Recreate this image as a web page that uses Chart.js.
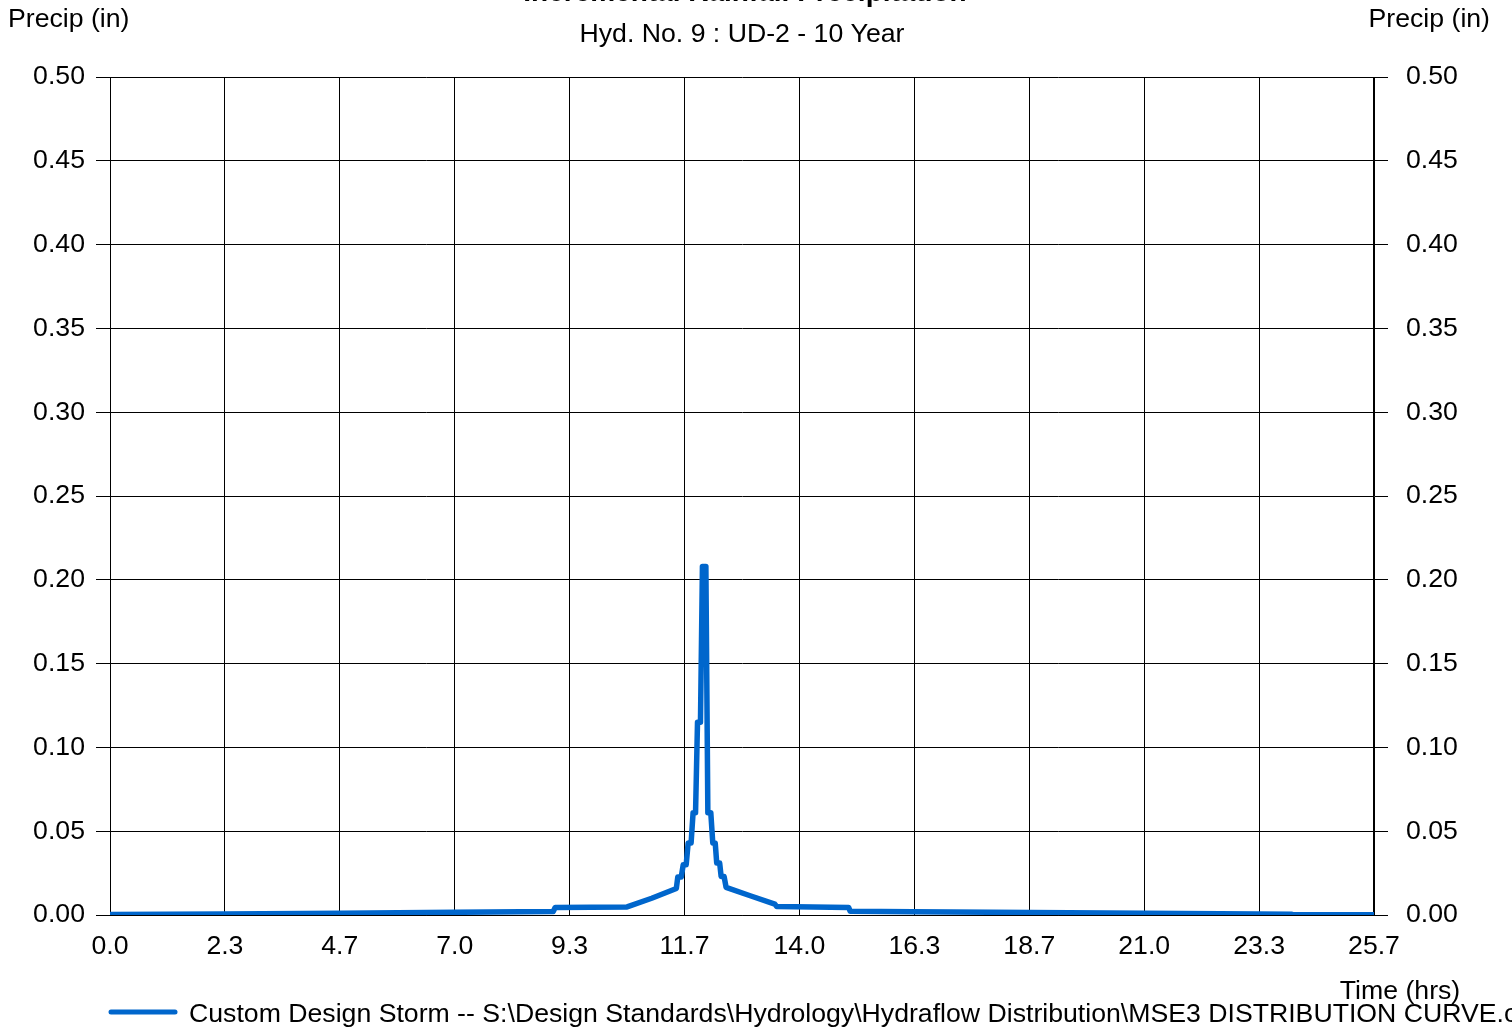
<!DOCTYPE html>
<html><head><meta charset="utf-8">
<script src="https://cdn.jsdelivr.net/npm/chart.js@4"></script>
<style>html,body{margin:0;padding:0;background:#fff;overflow:hidden}#wrap{position:relative;width:1512px;height:1030px}</style>
</head><body><div id="wrap"><canvas id="c" width="1512" height="1030"></canvas></div>
<script>
const chartTitle = "Incremental Rainfall Precipitation";
const chartSubtitle = "Hyd. No. 9 : UD-2 - 10 Year";
const yAxisTitle = "Precip (in)";
const xAxisTitle = "Time (hrs)";
const seriesName = "Custom Design Storm -- S:\\Design Standards\\Hydrology\\Hydraflow Distribution\\MSE3 DISTRIBUTION CURVE.cds";
const xTickLabels = ["0.0","2.3","4.7","7.0","9.3","11.7","14.0","16.3","18.7","21.0","23.3","25.7"];
const xMax = 25.667;
const yTickLabels = ["0.00","0.05","0.10","0.15","0.20","0.25","0.30","0.35","0.40","0.45","0.50"];
const timeHrs = [0.0, 2.3, 4.7, 7.0, 9.0, 9.04, 10.5, 11.0, 11.5, 11.53, 11.6, 11.64, 11.7, 11.74, 11.8, 11.84, 11.89, 11.93, 11.99, 12.03, 12.1, 12.14, 12.2, 12.24, 12.29, 12.32, 12.38, 12.41, 12.47, 12.51, 13.0, 13.5, 13.54, 15.0, 15.03, 16.3, 18.7, 21.0, 23.3, 24.0, 24.03, 25.67];
const precipIn = [0.0003, 0.0006, 0.0011, 0.0016, 0.0021, 0.0045, 0.0048, 0.0100, 0.0158, 0.0227, 0.0227, 0.0300, 0.0300, 0.0430, 0.0430, 0.0610, 0.0610, 0.1150, 0.1150, 0.2080, 0.2080, 0.0610, 0.0610, 0.0430, 0.0430, 0.0310, 0.0310, 0.0230, 0.0230, 0.0165, 0.0115, 0.0065, 0.0050, 0.0045, 0.0022, 0.0019, 0.0015, 0.0011, 0.0006, 0.0004, 0.0001, 0.0001];

const FONT = "'Liberation Sans', Arial, sans-serif";
const FS = 26.67;
const lineColor = '#0066CC';

const decor = {
  id: 'decor',
  afterDraw(chart) {
    const ctx = chart.ctx;
    const area = chart.chartArea;
    const cx = (area.left + area.right) / 2;
    ctx.save();
    ctx.fillStyle = '#000';
    ctx.font = 'bold 28px ' + FONT;
    ctx.textAlign = 'center';
    ctx.textBaseline = 'alphabetic';
    ctx.fillText(chartTitle, cx + 3, 1);
    ctx.font = FS + 'px ' + FONT;
    ctx.textBaseline = 'middle';
    ctx.fillText(chartSubtitle, cx, 35);
    ctx.textAlign = 'left';
    ctx.fillText(yAxisTitle, 8, 20);
    ctx.textAlign = 'right';
    ctx.fillText(yAxisTitle, 1490, 20);
    ctx.textAlign = 'center';
    ctx.fillText(xAxisTitle, 1400, 992);
    // legend
    ctx.strokeStyle = lineColor;
    ctx.lineWidth = 5;
    ctx.lineCap = 'round';
    ctx.beginPath();
    ctx.moveTo(111, 1012);
    ctx.lineTo(175, 1012);
    ctx.stroke();
    ctx.textAlign = 'left';
    ctx.fillText(seriesName, 189, 1015);
    ctx.restore();
  }
};

const yScaleBase = (pos, pad, width) => ({
  type: 'linear',
  position: pos,
  min: 0, max: 0.5,
  afterBuildTicks: s => { s.ticks = yTickLabels.map(l => ({ value: parseFloat(l) })); },
  ticks: {
    callback: (v, i) => yTickLabels[i],
    font: { family: FONT, size: FS },
    color: '#000',
    padding: pad,
    autoSkip: false
  },
  grid: {
    color: '#000',
    lineWidth: 1,
    tickLength: 14,
    drawOnChartArea: pos === 'left'
  },
  border: { display: true, color: '#000', width: 1 },
  afterFit: s => { s.width = width; }
});

new Chart(document.getElementById('c'), {
  type: 'line',
  data: {
    datasets: [{
      label: seriesName,
      data: timeHrs.map((t, i) => ({ x: t, y: precipIn[i] })),
      borderColor: lineColor,
      backgroundColor: lineColor,
      borderWidth: 5.5,
      pointRadius: 0,
      tension: 0,
      fill: false,
      borderJoinStyle: 'round',
      borderCapStyle: 'round',
      yAxisID: 'y'
    }]
  },
  options: {
    responsive: false,
    devicePixelRatio: 1,
    animation: false,
    layout: { padding: { top: 77, left: 0, right: 0, bottom: 0 } },
    plugins: { legend: { display: false }, title: { display: false }, tooltip: { enabled: false } },
    scales: {
      x: {
        type: 'linear',
        min: 0, max: xMax,
        afterBuildTicks: s => { s.ticks = xTickLabels.map((l, i) => ({ value: i * xMax / (xTickLabels.length - 1) })); },
        ticks: {
          callback: (v, i) => xTickLabels[i],
          font: { family: FONT, size: FS },
          color: '#000',
          padding: 16,
          maxRotation: 0,
          autoSkip: false
        },
        grid: { color: '#000', lineWidth: 1, drawTicks: false },
        border: { display: true, color: '#000', width: 1 },
        afterFit: s => { s.height = 115; }
      },
      y: yScaleBase('left', 11, 110),
      y2: yScaleBase('right', 18, 138)
    }
  },
  plugins: [decor]
});
</script></body></html>
